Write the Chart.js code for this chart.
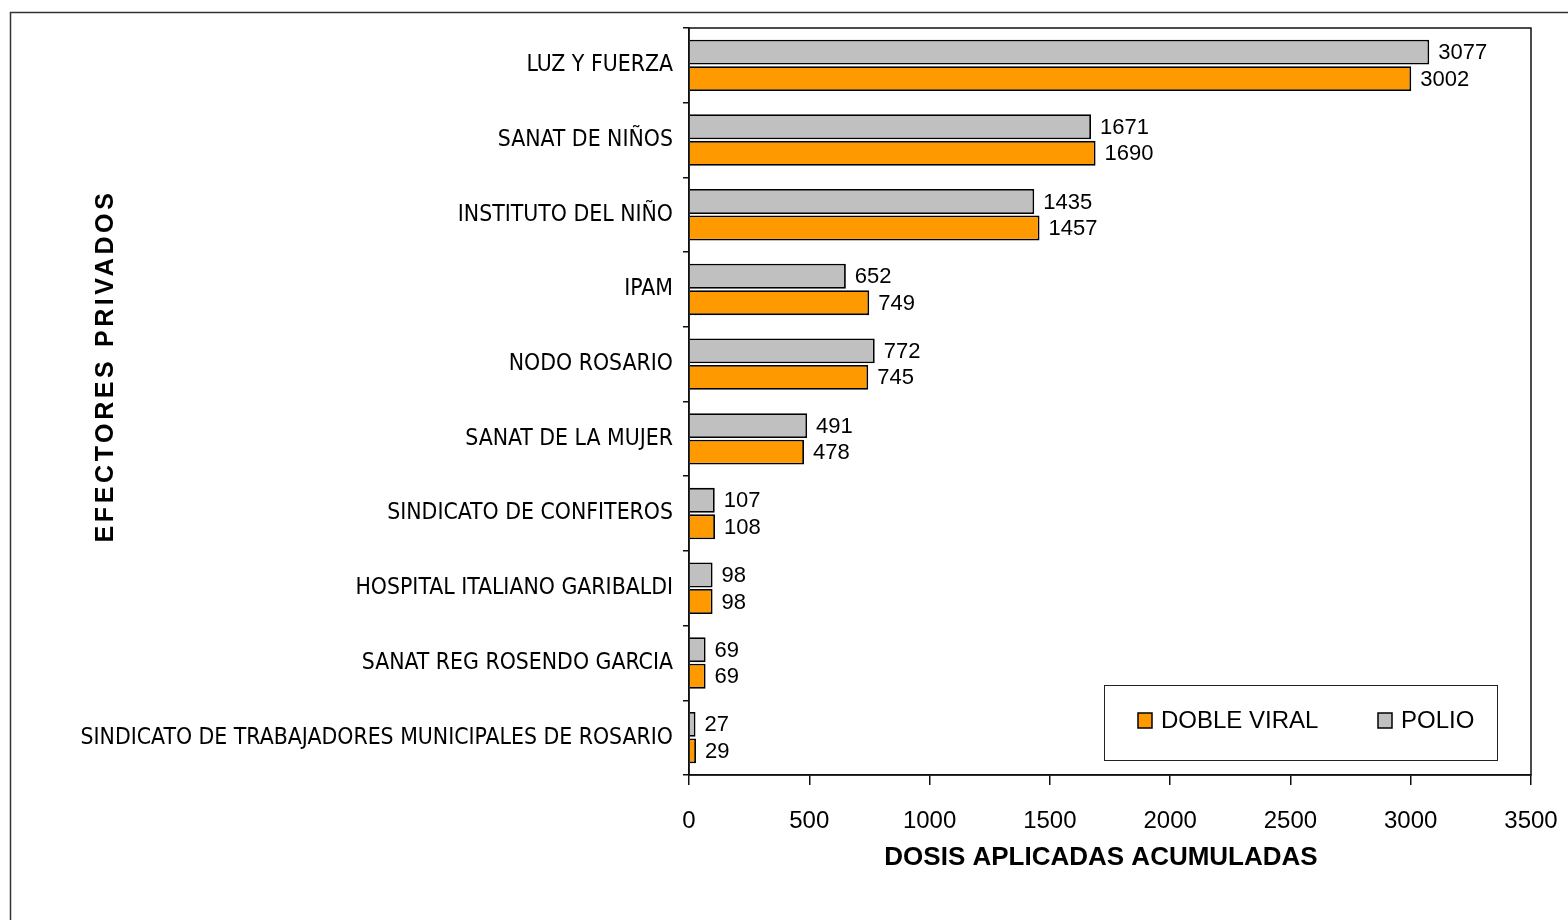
<!DOCTYPE html>
<html>
<head>
<meta charset="utf-8">
<script src="https://cdn.jsdelivr.net/npm/chart.js@4/dist/chart.umd.min.js"></script>
<style>
  body { margin: 0; background: #fff; }
  canvas { display: block; }
</style>
</head>
<body>
<canvas id="chart" width="1568" height="920"></canvas>
<script>
const categories = [
  'LUZ Y FUERZA',
  'SANAT DE NIÑOS',
  'INSTITUTO DEL NIÑO',
  'IPAM',
  'NODO ROSARIO',
  'SANAT DE LA MUJER',
  'SINDICATO DE CONFITEROS',
  'HOSPITAL ITALIANO GARIBALDI',
  'SANAT REG ROSENDO GARCIA',
  'SINDICATO DE TRABAJADORES MUNICIPALES DE ROSARIO'
]
const polio = [3077, 1671, 1435, 652, 772, 491, 107, 98, 69, 27]
const dobleViral = [3002, 1690, 1457, 749, 745, 478, 108, 98, 69, 29]
const xTicks = [0, 500, 1000, 1500, 2000, 2500, 3000, 3500]

const NARROW = "'DejaVu Sans Condensed', 'Liberation Sans', Arial, sans-serif"
const SANS = "'Liberation Sans', Arial, sans-serif"
const COLORS = { polio: '#c0c0c0', dobleViral: '#ff9900' }

const area = { left: 689, right: 1531, top: 28, bottom: 775 }

const decorations = {
  id: 'decorations',
  beforeDraw (chart) {
    const { ctx } = chart
    ctx.save()
    ctx.fillStyle = '#fff'
    ctx.fillRect(0, 0, chart.width, chart.height)
    ctx.strokeStyle = '#333'
    ctx.lineWidth = 1.5
    ctx.strokeRect(10.5, 12.5, 1700, 1000)
    ctx.restore()
  },
  afterDatasetsDraw (chart) {
    const { ctx, chartArea } = chart
    ctx.save()
    // plot area frame
    ctx.strokeStyle = '#111'
    ctx.lineWidth = 1.5
    ctx.strokeRect(chartArea.left, chartArea.top, chartArea.right - chartArea.left, chartArea.bottom - chartArea.top)

    // value labels
    ctx.fillStyle = '#000'
    ctx.font = '22px ' + SANS
    ctx.textAlign = 'left'
    ctx.textBaseline = 'middle'
    chart.data.datasets.forEach((ds, i) => {
      chart.getDatasetMeta(i).data.forEach((bar, j) => {
        ctx.fillText(String(ds.data[j]), bar.x + 9, bar.y + 1)
      })
    })

    // axis titles
    ctx.font = 'bold 26px ' + SANS
    ctx.textAlign = 'center'
    ctx.fillText('DOSIS APLICADAS ACUMULADAS', 1101, 858)
    ctx.save()
    ctx.translate(106, 366)
    ctx.rotate(-Math.PI / 2)
    ctx.font = 'bold 25px ' + SANS
    ctx.letterSpacing = '3.6px'
    ctx.fillText('EFECTORES PRIVADOS', 0, 0)
    ctx.restore()

    // legend
    ctx.fillStyle = '#fff'
    ctx.fillRect(1104, 685, 393, 75)
    ctx.strokeStyle = '#222'
    ctx.lineWidth = 1
    ctx.strokeRect(1104.5, 685.5, 393, 75)
    const items = [
      { label: 'DOBLE VIRAL', color: COLORS.dobleViral, x: 1138 },
      { label: 'POLIO', color: COLORS.polio, x: 1378 }
    ]
    ctx.font = '24px ' + SANS
    ctx.textAlign = 'left'
    items.forEach(item => {
      ctx.fillStyle = item.color
      ctx.fillRect(item.x, 713, 14, 15)
      ctx.strokeStyle = '#000'
      ctx.lineWidth = 1.5
      ctx.strokeRect(item.x, 713, 14, 15)
      ctx.fillStyle = '#000'
      ctx.fillText(item.label, item.x + 23, 721)
    })
    ctx.restore()
  }
}

new Chart(document.getElementById('chart'), {
  type: 'bar',
  data: {
    labels: categories,
    datasets: [
      { label: 'POLIO', data: polio, backgroundColor: COLORS.polio, borderColor: '#000', borderWidth: 1.8 },
      { label: 'DOBLE VIRAL', data: dobleViral, backgroundColor: COLORS.dobleViral, borderColor: '#000', borderWidth: 1.8 }
    ]
  },
  options: {
    indexAxis: 'y',
    responsive: false,
    animation: false,
    devicePixelRatio: 1,
    categoryPercentage: 0.71,
    barPercentage: 0.94,
    layout: { padding: { left: 0, top: area.top, right: 1568 - area.right, bottom: 0 } },
    plugins: { legend: { display: false }, tooltip: { enabled: false } },
    scales: {
      x: {
        min: 0,
        max: 3500,
        afterBuildTicks (scale) { scale.ticks = xTicks.map(value => ({ value })) },
        afterFit (scale) {
          scale.height = 920 - area.bottom
          scale.paddingLeft = 0
          scale.paddingRight = 0
        },
        grid: { drawOnChartArea: false, color: '#111', tickLength: 10, lineWidth: 1.5 },
        border: { color: '#111', width: 1.5 },
        ticks: {
          color: '#000',
          font: { family: SANS, size: 24 },
          padding: 22,
          maxRotation: 0,
          callback: value => String(value)
        }
      },
      y: {
        afterFit (scale) {
          scale.width = area.left
          scale.paddingTop = 0
          scale.paddingBottom = 0
        },
        grid: { drawOnChartArea: false, color: '#111', tickLength: 6, lineWidth: 1.5, offset: true },
        border: { color: '#111', width: 1.5 },
        ticks: { color: '#000', font: { family: NARROW, size: 22.8 }, padding: 10, autoSkip: false }
      }
    }
  },
  plugins: [decorations]
})
</script>
</body>
</html>
